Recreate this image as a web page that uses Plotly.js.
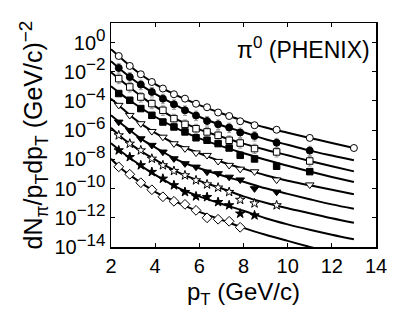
<!DOCTYPE html>
<html><head><meta charset="utf-8">
<script src="https://cdn.plot.ly/plotly-3.0.1.min.js"></script>
<style>html,body{margin:0;padding:0;background:#fff;} #chart{width:415px;height:313px;}</style>
</head><body><div id="chart"></div>
<script>
// pT values of the data points (GeV/c)
const markerPT = [2.35, 2.85, 3.35, 3.85, 4.35, 4.85, 5.35, 5.85, 6.35, 6.85, 7.35, 7.85, 8.5, 9.5, 11, 13];
// pT values where the fit curves were read
const fitPT = [2, 2.5, 3, 3.5, 4, 5, 6, 7, 8, 9, 10, 11, 12, 13];

// data points, given as log10 of dN/pTdpT
const circleLog  = [-0.92, -1.60, -2.17, -2.70, -3.15, -3.54, -3.84, -4.19, -4.43, -4.79, -5.03, -5.39, -5.66, -5.97, -6.53, -7.22];
const fcircleLog = [-1.74, -2.36, -2.88, -3.38, -3.84, -4.23, -4.64, -5.00, -5.37, -5.60, -5.82, -6.16, -6.40, -6.86, -7.40];
const osqLog     = [-2.47, -3.04, -3.73, -4.18, -4.64, -5.21, -5.60, -5.90, -6.12, -6.35, -6.69, -6.88, -7.26, -7.49, -8.11];
const fsqLog     = [-3.49, -3.95, -4.52, -4.98, -5.44, -5.78, -6.12, -6.52, -6.69, -6.92, -7.22, -7.72, -7.97, -8.47, -8.84];
const otriLog    = [-4.29, -4.98, -5.55, -6.08, -6.47, -6.92, -7.26, -7.55, -7.72, -8.13, -8.40, -8.66, -8.84, -9.40, -9.74];
const ftriLog    = [-5.44, -6.01, -6.58, -7.03, -7.49, -7.95, -8.29, -8.52, -8.86, -8.97, -9.21, -9.40, -10.00, -10.23];
const ostarLog   = [-6.35, -6.92, -7.38, -7.95, -8.40, -8.79, -9.09, -9.43, -9.71, -9.93, -10.23, -10.77, -11.01, -11.14];
const fstarLog   = [-7.38, -7.84, -8.40, -8.86, -9.32, -9.77, -10.23, -10.53, -10.58, -10.92, -11.14, -11.71, -11.83];
const diamondLog = [-8.51, -9.02, -9.60, -10.08, -10.56, -10.87, -11.08, -11.49, -12.00, -12.10, -12.24, -12.65];

// fit curves, log10 values at fitPT
const circleFit  = [-0.46, -1.12, -1.77, -2.34, -2.84, -3.64, -4.28, -4.84, -5.36, -5.82, -6.18, -6.53, -6.88, -7.22];
const fcircleFit = [-1.28, -1.93, -2.53, -3.05, -3.52, -4.34, -5.08, -5.66, -6.14, -6.62, -7.00, -7.40, -7.74, -8.06];
const osqFit     = [-2.03, -2.65, -3.25, -3.83, -4.37, -5.27, -5.94, -6.45, -6.92, -7.34, -7.72, -8.11, -8.47, -8.82];
const fsqFit     = [-2.99, -3.58, -4.12, -4.62, -5.08, -5.89, -6.56, -7.09, -7.57, -8.03, -8.44, -8.83, -9.20, -9.55];
const otriFit    = [-3.85, -4.50, -5.15, -5.70, -6.18, -7.00, -7.58, -8.16, -8.64, -9.09, -9.47, -9.77, -10.08, -10.39];
const ftriFit    = [-4.98, -5.60, -6.18, -6.73, -7.17, -8.03, -8.61, -9.09, -9.53, -9.98, -10.36, -10.73, -11.08, -11.38];
const ostarFit   = [-5.84, -6.52, -7.07, -7.57, -8.02, -8.85, -9.47, -9.98, -10.53, -10.97, -11.35, -11.69, -12.03, -12.34];
const fstarFit   = [-6.90, -7.51, -8.06, -8.58, -9.06, -9.91, -10.53, -11.04, -11.52, -12.03, -12.45, -12.82, -13.16, -13.47];
const diamondFit = [-7.96, -8.68, -9.23, -9.74, -10.22, -10.94, -11.59, -12.14, -12.69, -13.16, -13.58, -13.99, -14.36, -14.71];

const yTickVals = [1e0, 1e-2, 1e-4, 1e-6, 1e-8, 1e-10, 1e-12, 1e-14];
const yTickExp = ['0', '−2', '−4', '−6', '−8', '−10', '−12', '−14'];
const xTickVals = [2, 4, 6, 8, 10, 12, 14];

const toVal = a => a.map(v => Math.pow(10, v));
const supSpan = (t, px) => '<sup><span style="font-size:' + px + 'px">' + t + '</span></sup>';
const yTickText = yTickExp.map(e => '10' + supSpan(e, 17));

const series = [
  {data: circleLog,  fit: circleFit,  symbol: 'circle',        fill: '#ffffff', size: 7},
  {data: fcircleLog, fit: fcircleFit, symbol: 'circle',        fill: '#000000', size: 7, err: true},
  {data: osqLog,     fit: osqFit,     symbol: 'square',        fill: '#ffffff', size: 6.5, err: true},
  {data: fsqLog,     fit: fsqFit,     symbol: 'square',        fill: '#000000', size: 6.5},
  {data: otriLog,    fit: otriFit,    symbol: 'triangle-down', fill: '#ffffff', size: 7.5},
  {data: ftriLog,    fit: ftriFit,    symbol: 'triangle-down', fill: '#000000', size: 7.5},
  {data: ostarLog,   fit: ostarFit,   symbol: 'star',          fill: '#ffffff', size: 7},
  {data: fstarLog,   fit: fstarFit,   symbol: 'star',          fill: '#000000', size: 7},
  {data: diamondLog, fit: diamondFit, symbol: 'diamond',       fill: '#ffffff', size: 7.5}
];

const traces = [];
series.forEach(s => {
  traces.push({
    x: fitPT, y: toVal(s.fit), mode: 'lines', type: 'scatter',
    line: {color: '#000', width: 2, shape: 'spline', smoothing: 1},
    showlegend: false, hoverinfo: 'skip'
  });
});
series.forEach(s => {
  const t = {
    x: markerPT.slice(0, s.data.length), y: toVal(s.data), mode: 'markers', type: 'scatter',
    marker: {symbol: s.symbol, size: s.size, color: s.fill, line: {color: '#000', width: 1}},
    showlegend: false, hoverinfo: 'skip', cliponaxis: true
  };
  if (s.err) {
    t.error_y = {type: 'percent', symmetric: false, value: 100, valueminus: 55, color: '#999', thickness: 1, width: 2};
  }
  traces.push(t);
});

const fam = 'Liberation Sans, Arial, sans-serif';
const tickFont = {family: fam, size: 20, color: '#000'};
const layout = {
  width: 415, height: 313,
  margin: {l: 111, r: 39, t: 23, b: 66},
  paper_bgcolor: '#fff', plot_bgcolor: '#fff',
  showlegend: false,
  xaxis: {
    range: [2, 14], tickvals: xTickVals, ticks: 'inside', ticklen: 4, tickwidth: 1, tickcolor: '#000',
    showline: true, linecolor: '#000', linewidth: 1.5, mirror: 'ticks', showgrid: false, zeroline: false,
    tickfont: tickFont
  },
  yaxis: {
    type: 'log', range: [-14, 1.34], tickvals: yTickVals, ticktext: yTickText,
    ticks: 'inside', ticklen: 4, tickwidth: 1, tickcolor: '#000',
    showline: true, linecolor: '#000', linewidth: 1.5, mirror: 'ticks', showgrid: false, zeroline: false,
    tickfont: tickFont,
    title: {text: 'dN<sub>π</sub>/p<sub>T</sub>dp<sub>T</sub> (GeV/c)' + supSpan('−2', 19), font: {family: fam, size: 25, color: '#000'}, standoff: 4}
  },
  annotations: [
    {
      xref: 'paper', yref: 'paper', x: 0.985, y: 0.888, xanchor: 'right', yanchor: 'middle',
      text: 'π' + supSpan('0', 17) + ' (PHENIX)', showarrow: false,
      font: {family: fam, size: 23, color: '#000'}
    },
    {
      xref: 'paper', yref: 'paper', x: 0.5, y: -0.128, xanchor: 'center', yanchor: 'top',
      text: 'p<sub>T</sub> (GeV/c)', showarrow: false,
      font: {family: fam, size: 24, color: '#000'}
    }
  ]
};

Plotly.newPlot('chart', traces, layout, {staticPlot: true, displayModeBar: false});
</script>
</body></html>
